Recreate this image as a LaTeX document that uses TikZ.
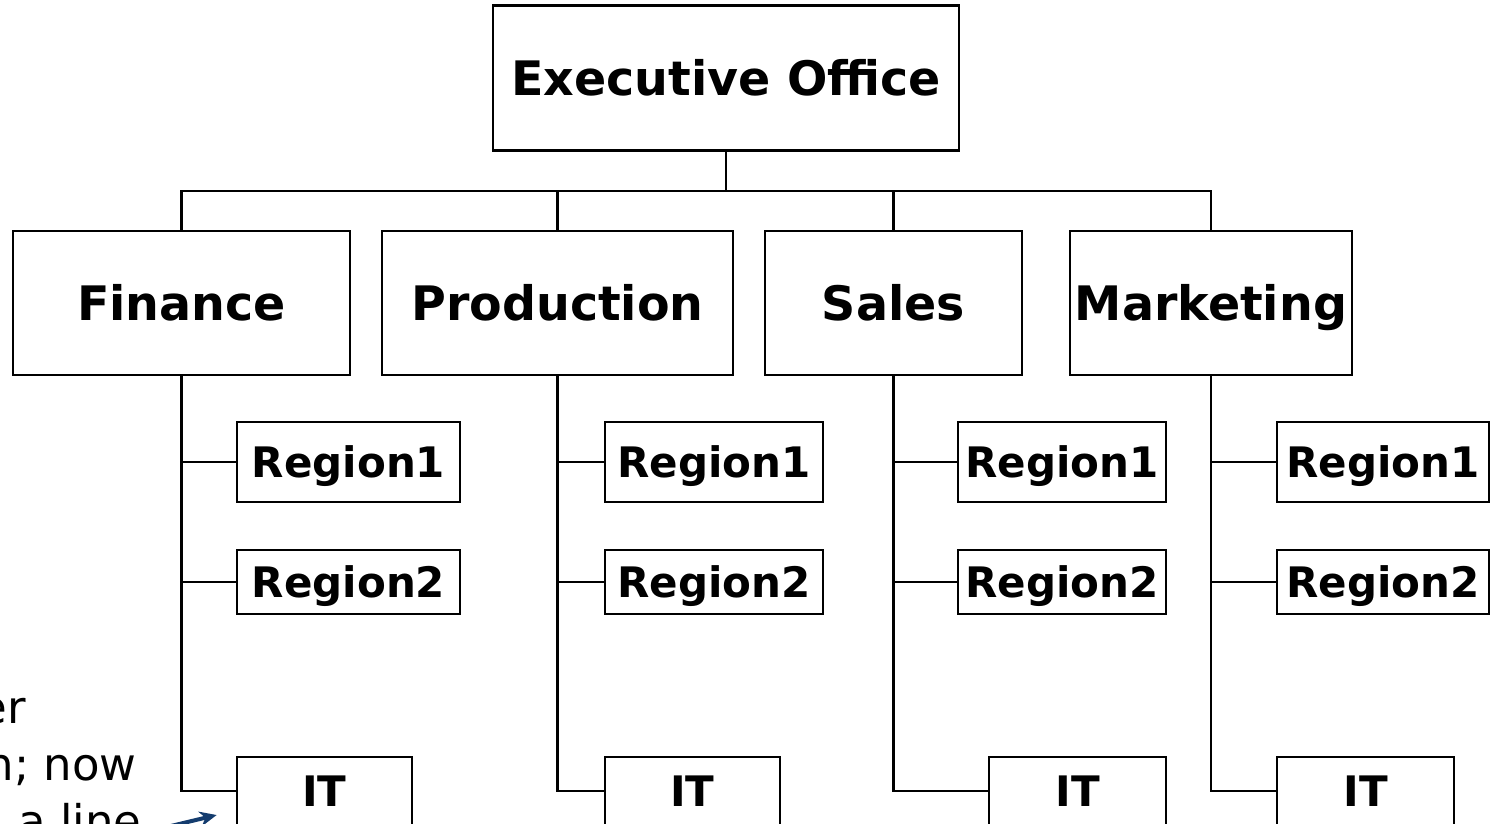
\documentclass[tikz,border=0pt]{standalone}
\usepackage{fontspec}
\setmainfont{DejaVu Sans}
\usetikzlibrary{arrows.meta}
\definecolor{arrowblue}{RGB}{20,60,110}
\begin{document}
\begin{tikzpicture}[x=1pt,y=-1pt,line width=2.7pt,
  bigbox/.style={draw,inner sep=0pt,text height=35pt,text depth=0pt,font=\bfseries\fontsize{47.5}{56}\selectfont},
  smallbox/.style={draw,inner sep=0pt,text height=31pt,text depth=0pt,font=\bfseries\fontsize{42}{50}\selectfont},
  note/.style={inner sep=0pt,anchor=base east,font=\fontsize{45}{54}\selectfont}]
\path[use as bounding box,clip] (0,0) rectangle (1490,823);
% top
\node[bigbox,minimum width=466pt,minimum height=145pt] (exec) at (726,78) {Executive Office};
% level 1
\node[bigbox,minimum width=337pt,minimum height=144pt] (fin) at (181.5,303) {Finance};
\node[bigbox,minimum width=351pt,minimum height=144pt] (prod) at (557.5,303) {Production};
\node[bigbox,minimum width=257pt,minimum height=144pt] (sales) at (893.5,303) {Sales};
\node[bigbox,minimum width=282pt,minimum height=144pt] (mkt) at (1211,303) {Marketing};
% finance children
\node[smallbox,minimum width=223pt,minimum height=80pt] (finra) at (348.5,462) {Region1};
\node[smallbox,minimum width=223pt,minimum height=64pt] (finrb) at (348.5,582) {Region2};
\node[smallbox,minimum width=175pt,minimum height=68pt] (finit) at (324.5,791) {IT};
% production children
\node[smallbox,minimum width=218pt,minimum height=80pt] (prodra) at (714,462) {Region1};
\node[smallbox,minimum width=218pt,minimum height=64pt] (prodrb) at (714,582) {Region2};
\node[smallbox,minimum width=175pt,minimum height=68pt] (prodit) at (692.5,791) {IT};
% sales children
\node[smallbox,minimum width=208pt,minimum height=80pt] (salesra) at (1062,462) {Region1};
\node[smallbox,minimum width=208pt,minimum height=64pt] (salesrb) at (1062,582) {Region2};
\node[smallbox,minimum width=177pt,minimum height=68pt] (salesit) at (1077.5,791) {IT};
% marketing children
\node[smallbox,minimum width=212pt,minimum height=80pt] (mktra) at (1383,462) {Region1};
\node[smallbox,minimum width=212pt,minimum height=64pt] (mktrb) at (1383,582) {Region2};
\node[smallbox,minimum width=177pt,minimum height=68pt] (mktit) at (1365.5,791) {IT};
% bus
\draw (exec.south) -- ++(0,39) -| (fin.north);
\draw (exec.south) -- ++(0,39) -| (prod.north);
\draw (exec.south) -- ++(0,39) -| (sales.north);
\draw (exec.south) -- ++(0,39) -| (mkt.north);
% spines
\foreach \p in {fin,prod,sales,mkt}{
  \draw (\p.south) |- (\p ra.west);
  \draw (\p.south) |- (\p rb.west);
  \draw (\p.south) |- (\p it.west);
}
% partial note on the left
\node[note] (n1) at (27,723) {er};
\node[note] (n2) at (138,780) {n; now};
\node[note] (n3) at (143,837) {a line};
\coordinate (atail) at (150,831);
\draw[arrowblue,line width=4pt,-{Stealth[length=17pt,width=15pt]}] (atail) -- ([xshift=-19pt,yshift=-24pt]finit.west);
\end{tikzpicture}
\end{document}
